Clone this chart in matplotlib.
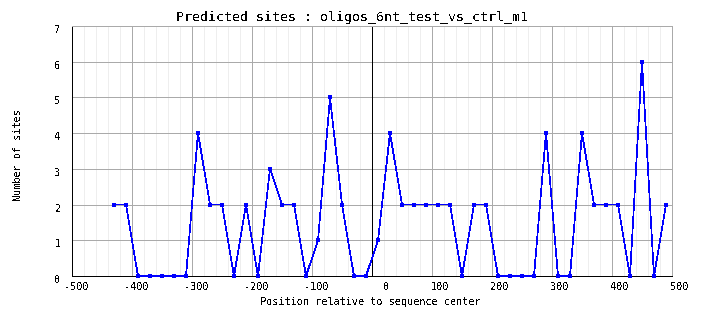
import matplotlib
matplotlib.use("Agg")
import matplotlib.pyplot as plt
import matplotlib.transforms as mtransforms
import numpy as np

# window centres (relative to the sequence centre) and site counts
positions = [-430, -410, -390, -370, -350, -330, -310, -290, -270, -250,
             -230, -210, -190, -170, -150, -130, -110, -90, -70, -50,
             -30, -10, 10, 30, 50, 70, 90, 110, 130, 150,
             170, 190, 210, 230, 250, 270, 290, 310, 330, 350,
             370, 390, 410, 430, 450, 470, 490]
sites = [2, 2, 0, 0, 0, 0, 0, 4, 2, 2,
         0, 2, 0, 3, 2, 2, 0, 1, 5, 2,
         0, 0, 1, 4, 2, 2, 2, 2, 2, 0,
         2, 2, 0, 0, 0, 0, 4, 0, 0, 4,
         2, 2, 2, 0, 6, 0, 2]

x_ticks = [-500, -400, -300, -200, -100, 0, 100, 200, 300, 400, 500]
y_ticks = [0, 1, 2, 3, 4, 5, 6, 7]

plt.rcParams['font.family'] = 'DejaVu Sans Mono'
plt.rcParams['font.size'] = 7.4
plt.rcParams['text.antialiased'] = False

PX = 0.72  # one pixel in points at 100 dpi

fig = plt.figure(figsize=(7.04, 3.28), dpi=100)
W, H = 704, 328
ax = fig.add_axes([72 / W, 1 - 276 / H, 600 / W, 250 / H])

ax.set_xlim(-500, 500)
ax.set_ylim(0, 7)

# grid: light minor lines every 20, grey major lines
for xm in np.arange(-500, 501, 20):
    ax.axvline(xm, color='#eeeeee', lw=PX, antialiased=False, zorder=0)
for xm in x_ticks:
    ax.axvline(xm, color='#aaaaaa', lw=PX, antialiased=False, zorder=1)
for ym in y_ticks:
    ax.axhline(ym, color='#aaaaaa', lw=PX, antialiased=False, zorder=1)

ax.axvline(0, color='black', lw=PX, antialiased=False, zorder=2)

ax.plot(positions, sites, color='#0000ff', lw=0.5, antialiased=False,
        zorder=3, clip_on=False)
ax.plot(positions, sites, ls='none', color='#0000ff', marker='s',
        markersize=2.4, markeredgewidth=0, zorder=4, clip_on=False)

for side in ['top', 'right']:
    ax.spines[side].set_color('#aaaaaa')
for side in ['left', 'bottom']:
    ax.spines[side].set_color('black')
for s in ax.spines.values():
    s.set_linewidth(PX)
    s.set_antialiased(False)

ax.set_xticks(x_ticks)
ax.set_yticks(y_ticks)
ax.tick_params(length=0)
ax.tick_params(axis='x', pad=4)
ax.tick_params(axis='y', pad=8)
ax.set_xticklabels([str(v) for v in x_ticks], ha='right')
ax.set_yticklabels([str(v) for v in y_ticks])

# x labels sit to the right of their grid line, y labels slightly below
shift_x = mtransforms.ScaledTranslation(17 / 100, 0, fig.dpi_scale_trans)
for lbl in ax.get_xticklabels():
    lbl.set_transform(lbl.get_transform() + shift_x)
shift_y = mtransforms.ScaledTranslation(0, -3 / 100, fig.dpi_scale_trans)
for lbl in ax.get_yticklabels():
    lbl.set_transform(lbl.get_transform() + shift_y)

fig.text(352 / W, 1 - 17 / H, 'Predicted sites : oligos_6nt_test_vs_ctrl_m1',
         ha='center', va='center', fontsize=9.6)
fig.text(370 / W, 1 - 302 / H, 'Position relative to sequence center',
         ha='center', va='center')
fig.text(18 / W, 1 - 155 / H, 'Number of sites', rotation=90,
         ha='center', va='center')

fig.savefig('out.png', dpi=100)
